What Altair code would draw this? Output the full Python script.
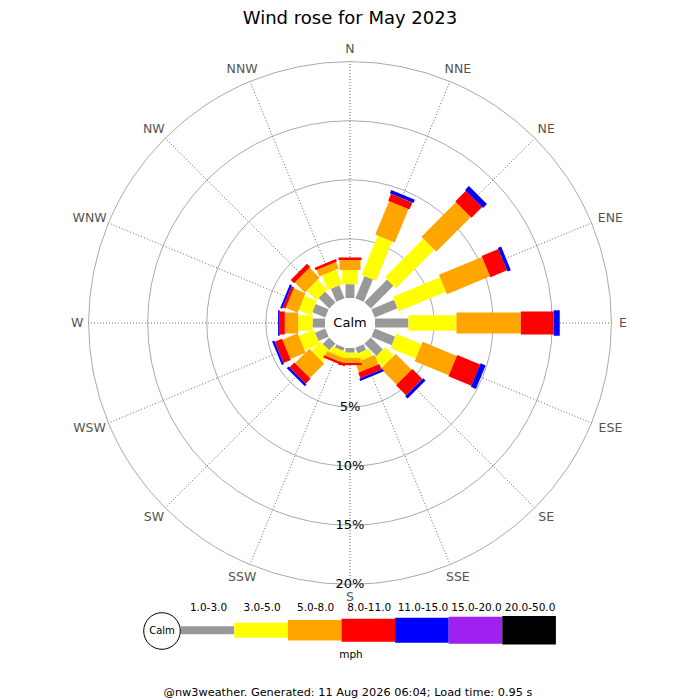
import altair as alt
import pandas as pd

# ---------------- data ----------------
dirs = ["N", "NNE", "NE", "ENE", "E", "ESE", "SE", "SSE",
        "S", "SSW", "SW", "WSW", "W", "WNW", "NW", "NNW"]
bands = ["1.0-3.0", "3.0-5.0", "5.0-8.0", "8.0-11.0", "11.0-15.0", "15.0-20.0", "20.0-50.0"]
band_colors = ["#999999", "#ffff00", "#ffa500", "#ff0000", "#0000ff", "#a020f0", "#000000"]

# percentage of time per direction for each speed band (mph)
b_1_3 = [1.17, 2.03, 2.71, 2.08, 2.83, 1.87, 1.45, 0.51, 0.40, 0.30, 0.77, 0.94, 1.05, 1.19, 1.26, 1.19]
b_3_5 = [1.19, 3.59, 4.61, 4.32, 4.06, 2.30, 1.02, 0.68, 0.43, 0.53, 1.09, 1.38, 1.22, 1.13, 1.15, 1.32]
b_5_8 = [0.85, 3.06, 4.12, 3.94, 5.45, 3.13, 1.90, 0.85, 0.43, 0.40, 1.71, 1.39, 1.13, 1.08, 1.20, 0.61]
b_8_11 = [0.22, 0.63, 1.29, 1.53, 2.78, 2.10, 1.20, 0.51, 0.19, 0.21, 0.60, 0.67, 0.43, 0.25, 0.40, 0.22]
b_11_15 = [0.00, 0.31, 0.46, 0.30, 0.51, 0.46, 0.28, 0.21, 0.00, 0.00, 0.20, 0.19, 0.14, 0.18, 0.00, 0.00]
b_15_20 = [0.0] * 16
b_20_50 = [0.0] * 16

rings = [5, 10, 15, 20]
ring_labels = ["5%", "10%", "15%", "20%"]
title_text = "Wind rose for May 2023"
calm_text = "Calm"
unit_text = "mph"
footer_text = "@nw3weather. Generated: 11 Aug 2026 06:04; Load time: 0.95 s"

# ---------------- layout (pixels) ----------------
R0 = 25.0        # calm circle radius
K = 11.82        # pixels per percent
RMAX = 20        # outer ring percent
LAB_OFF = 7.0
W, H = 684, 680
xs = alt.Scale(domain=[-342, 342], nice=False, zero=False)
ys = alt.Scale(domain=[-365, 315], nice=False, zero=False)
FONT = "DejaVu Sans"
bar_widths = [9, 15.5, 21, 23, 25.5, 27, 28]
leg_widths = [8, 15, 20.5, 23, 25, 27, 28.5]
LX, SEG, LY, LLAB = -169.3, 53.6, -307.2, -285.0

color_scale = alt.Scale(type="ordinal", domain=bands, range=band_colors)

series = [b_1_3, b_3_5, b_5_8, b_8_11, b_11_15, b_15_20, b_20_50]
rows = []
for i, d in enumerate(dirs):
    cum = 0.0
    for j, b in enumerate(bands):
        v = series[j][i]
        if v > 0:
            rows.append({"dir": d, "idx": i, "band": b, "order": j, "lo": cum, "hi": cum + v})
        cum += v
bars_df = pd.DataFrame(rows)

dir_df = pd.DataFrame({"dir": dirs, "idx": list(range(len(dirs)))})
ring_df = pd.DataFrame({"pct": rings, "lab": ring_labels})
band_df = pd.DataFrame({"band": bands, "j": list(range(len(bands)))})


def X(f):
    return alt.X(f, type="quantitative", scale=xs, axis=None)


def Y(f):
    return alt.Y(f, type="quantitative", scale=ys, axis=None)


# rings
ring_layer = alt.Chart(ring_df).transform_calculate(
    cx="0", cy="0", sz=f"pow(2*({R0}+{K}*datum.pct), 2)"
).mark_point(shape="circle", filled=False, color="#aaaaaa", strokeWidth=1, opacity=1).encode(
    x=X("cx"), y=Y("cy"), size=alt.Size("sz:Q", scale=None, legend=None)
)

# spokes
spoke_layer = alt.Chart(dir_df).transform_calculate(
    a="datum.idx*PI/8", r=f"{R0}+{K}*{RMAX}",
    x0="0", y0="0", x1="datum.r*sin(datum.a)", y1="datum.r*cos(datum.a)"
).mark_rule(color="#555555", strokeWidth=0.9, strokeDash=[1, 2]).encode(
    x=X("x0"), y=Y("y0"), x2="x1:Q", y2="y1:Q"
)

# calm disc
calm_layer = alt.Chart(pd.DataFrame({"t": [calm_text]})).transform_calculate(
    cx="0", cy="0", sz=f"pow(2*{R0}, 2)"
).mark_point(shape="circle", filled=True, color="white", opacity=1, strokeWidth=0).encode(
    x=X("cx"), y=Y("cy"), size=alt.Size("sz:Q", scale=None, legend=None)
)
calm_text_layer = alt.Chart(pd.DataFrame({"t": [calm_text]})).transform_calculate(
    cx="0", cy="0"
).mark_text(font=FONT, fontSize=13, color="black", align="center", baseline="middle").encode(
    x=X("cx"), y=Y("cy"), text="t:N"
)

# bars
bar_layer = alt.Chart(bars_df).transform_calculate(
    a="datum.idx*PI/8",
    r0=f"{R0}+{K}*datum.lo", r1=f"{R0}+{K}*datum.hi",
    x0="datum.r0*sin(datum.a)", y0="datum.r0*cos(datum.a)",
    x1="datum.r1*sin(datum.a)", y1="datum.r1*cos(datum.a)"
).mark_rule(strokeCap="butt", opacity=1).encode(
    x=X("x0"), y=Y("y0"), x2="x1:Q", y2="y1:Q",
    color=alt.Color("band:N", scale=color_scale, legend=None),
    strokeWidth=alt.StrokeWidth("band:N", scale=alt.Scale(type="ordinal", domain=bands, range=bar_widths), legend=None),
    order=alt.Order("order:Q"),
)

# ring labels
ring_lab_layer = alt.Chart(ring_df).transform_calculate(
    cx="0", cy=f"-({R0}+{K}*datum.pct)"
).mark_text(font=FONT, fontSize=13, color="black", align="center", baseline="middle").encode(
    x=X("cx"), y=Y("cy"), text="lab:N"
)

# direction labels
dir_lab_layer = alt.Chart(dir_df).transform_calculate(
    a="datum.idx*PI/8", r=f"{R0}+{K}*{RMAX}+{LAB_OFF}",
    w="length(datum.dir)*9",
    lx="datum.r*sin(datum.a) + 0.5*datum.w*sin(datum.a)",
    ly="datum.r*cos(datum.a) + 6*cos(datum.a)"
).mark_text(font=FONT, fontSize=12.5, color="#555555", align="center", baseline="middle").encode(
    x=X("lx"), y=Y("ly"), text="dir:N"
)

# title
title_layer = alt.Chart(pd.DataFrame({"t": [title_text]})).transform_calculate(
    cx="0", cy="304"
).mark_text(font=FONT, fontSize=18, color="black", align="center", baseline="middle").encode(
    x=X("cx"), y=Y("cy"), text="t:N"
)

# legend
leg_bar_layer = alt.Chart(band_df).transform_calculate(
    x0=f"{LX}+datum.j*{SEG}", x1=f"{LX}+(datum.j+1)*{SEG}", y0=f"{LY}"
).mark_rule(strokeCap="butt", opacity=1).encode(
    x=X("x0"), y=Y("y0"), x2="x1:Q",
    color=alt.Color("band:N", scale=color_scale, legend=None),
    strokeWidth=alt.StrokeWidth("lw:N", scale=alt.Scale(type="ordinal", domain=[f"L{k}" for k in range(7)], range=leg_widths), legend=None),
).transform_calculate(lw="'L' + datum.j")
leg_lab_layer = alt.Chart(band_df).transform_calculate(
    cx=f"{LX}+(datum.j+0.5)*{SEG}+1", cy=f"{LLAB}"
).mark_text(font=FONT, fontSize=10.5, color="black", align="center", baseline="middle").encode(
    x=X("cx"), y=Y("cy"), text="band:N"
)
leg_calm_layer = alt.Chart(pd.DataFrame({"t": [calm_text]})).transform_calculate(
    cx="-188", cy="-308", sz="pow(36.6, 2)"
).mark_point(shape="circle", filled=True, fill="white", stroke="black", strokeWidth=1, opacity=1).encode(
    x=X("cx"), y=Y("cy"), size=alt.Size("sz:Q", scale=None, legend=None)
)
leg_calm_text = alt.Chart(pd.DataFrame({"t": [calm_text]})).transform_calculate(
    cx="-188", cy="-308"
).mark_text(font=FONT, fontSize=10, color="black", align="center", baseline="middle").encode(
    x=X("cx"), y=Y("cy"), text="t:N"
)
unit_layer = alt.Chart(pd.DataFrame({"t": [unit_text]})).transform_calculate(
    cx="1", cy="-332"
).mark_text(font=FONT, fontSize=10.5, color="black", align="center", baseline="middle").encode(
    x=X("cx"), y=Y("cy"), text="t:N"
)
footer_layer = alt.Chart(pd.DataFrame({"t": [footer_text]})).transform_calculate(
    cx="-2", cy="-370"
).mark_text(font=FONT, fontSize=11.3, color="black", align="center", baseline="middle").encode(
    x=X("cx"), y=Y("cy"), text="t:N"
)

chart = alt.layer(
    ring_layer, spoke_layer, calm_layer, bar_layer, calm_text_layer,
    ring_lab_layer, dir_lab_layer, title_layer,
    leg_bar_layer, leg_calm_layer, leg_calm_text, leg_lab_layer, unit_layer, footer_layer,
).resolve_scale(size="independent", strokeWidth="independent").properties(
    width=W, height=H,
    autosize=alt.AutoSizeParams(type="none"),
    padding={"left": 0, "top": 0, "right": 0, "bottom": 12},
    background="white",
).configure_view(stroke=None)

chart.save("out.html", embed_options={"renderer": "svg", "actions": False})
